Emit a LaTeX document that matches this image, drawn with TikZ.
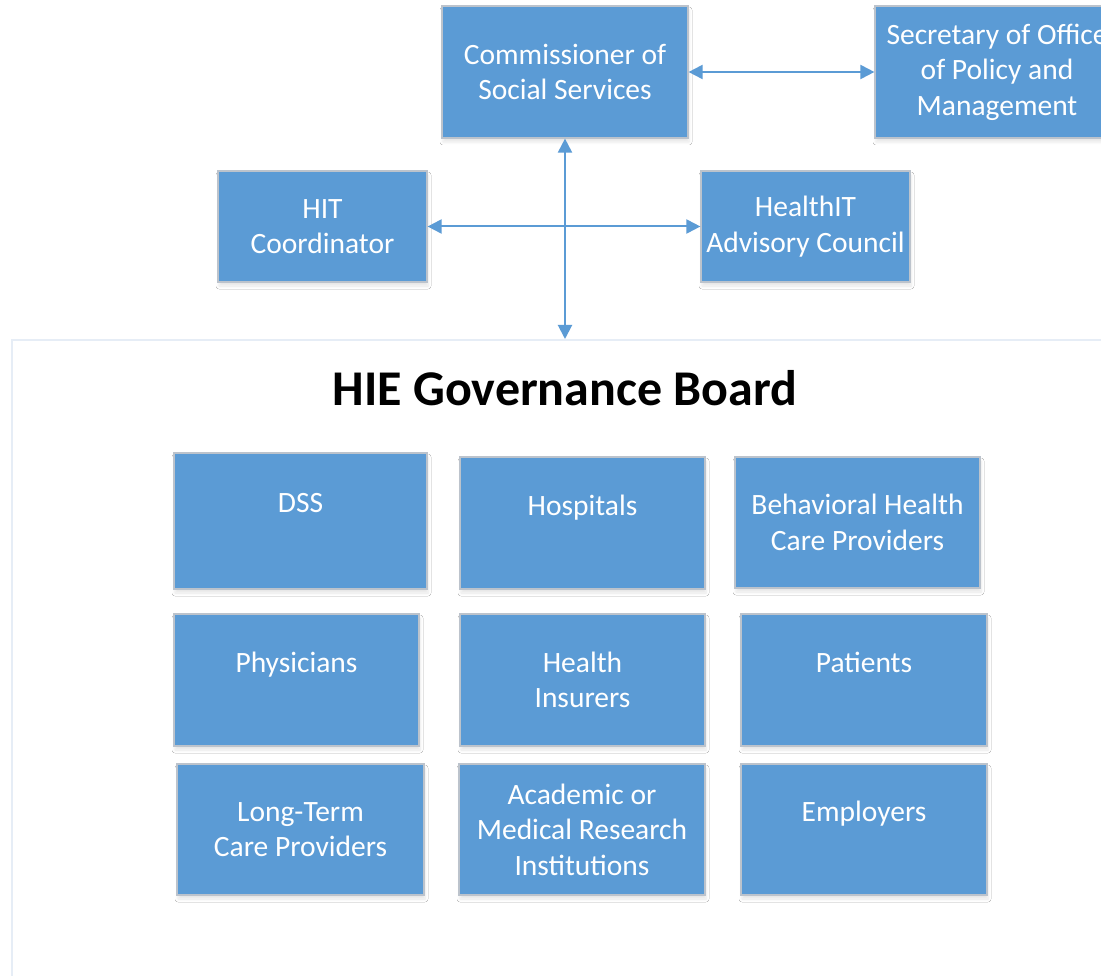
\documentclass[tikz,border=0pt]{standalone}
\usepackage{fontspec}
\setmainfont{Carlito}
\usetikzlibrary{arrows.meta,shadows.blur}
\definecolor{boxblue}{HTML}{5B9BD5}
\definecolor{boxedge}{HTML}{BCC3CC}
\definecolor{boardedge}{HTML}{E6EDF6}
\tikzset{
  unitbox/.style={rectangle, fill=boxblue, draw=boxedge, line width=1.2pt,
    text=white, align=center, inner sep=0pt,
    font=\fontsize{29.5}{35.5}\selectfont,
    blur shadow={shadow xshift=1pt, shadow yshift=-4pt, shadow blur radius=3pt,
      shadow opacity=10, shadow blur steps=6}},
  boardbox/.style={rectangle, draw=boardedge, line width=2pt, fill=white, inner sep=0pt},
  link/.style={draw=boxblue, line width=2pt,
    {Triangle[length=14pt,width=14pt]}-{Triangle[length=14pt,width=14pt]}},
}
\begin{document}
\begin{tikzpicture}[x=1pt,y=-1pt]
  \useasboundingbox (0,0) rectangle (1101,976);
  \clip (0,0) rectangle (1101,976);
  \fill[white] (0,0) rectangle (1101,976);

  % governance board frame and title
  \node[boardbox, anchor=north west, minimum width=1150pt, minimum height=700pt]
    (board) at (11,339) {};
  \node[font=\fontsize{50}{60}\selectfont\bfseries] (title) at (565,388)
    {HIE Governance Board};

  % leadership boxes
  \node[unitbox, minimum width=246pt, minimum height=132pt] (comm) at (565,72)
    {Commissioner of\\Social Services};
  \node[unitbox, minimum width=244pt, minimum height=132pt] (sec) at (997,72)
    {Secretary of Office\\of Policy and\\Management};
  \node[unitbox, minimum width=209pt, minimum height=111pt] (hit) at (322.5,226.5)
    {HIT\\Coordinator};
  \node[unitbox, minimum width=209pt, minimum height=111pt] (hac) at (805.5,226.5)
    {HealthIT\\Advisory Council};

  % connectors
  \draw[link] (comm.east) -- (sec.west);
  \draw[link] (hit.east) -- (hac.west);
  \draw[link] (comm.south) -- (comm.south |- board.north);

  % board members (single names sit on the first of two lines)
  \node[unitbox, minimum width=253pt, minimum height=136pt] (dss) at (300.5,521)
    {DSS\\\mbox{}};
  \node[unitbox, minimum width=245pt, minimum height=132pt] (hosp) at (582.5,523)
    {Hospitals\\\mbox{}};
  \node[unitbox, minimum width=245pt, minimum height=131pt] (beh) at (857.5,522.5)
    {Behavioral Health\\Care Providers};

  \node[unitbox, minimum width=245pt, minimum height=132pt] (phys) at (296.5,680)
    {Physicians\\\mbox{}};
  \node[unitbox, minimum width=245pt, minimum height=132pt] (ins) at (582.5,680)
    {Health\\Insurers};
  \node[unitbox, minimum width=246pt, minimum height=132pt] (pat) at (864,680)
    {Patients\\\mbox{}};

  \node[unitbox, minimum width=247pt, minimum height=131pt] (ltc) at (300.5,829.5)
    {Long-Term\\Care Providers};
  \node[unitbox, minimum width=246pt, minimum height=131pt] (acad) at (582,829.5)
    {Academic or\\Medical Research\\Institutions};
  \node[unitbox, minimum width=246pt, minimum height=131pt] (emp) at (864,829.5)
    {Employers\\\mbox{}};
\end{tikzpicture}
\end{document}
